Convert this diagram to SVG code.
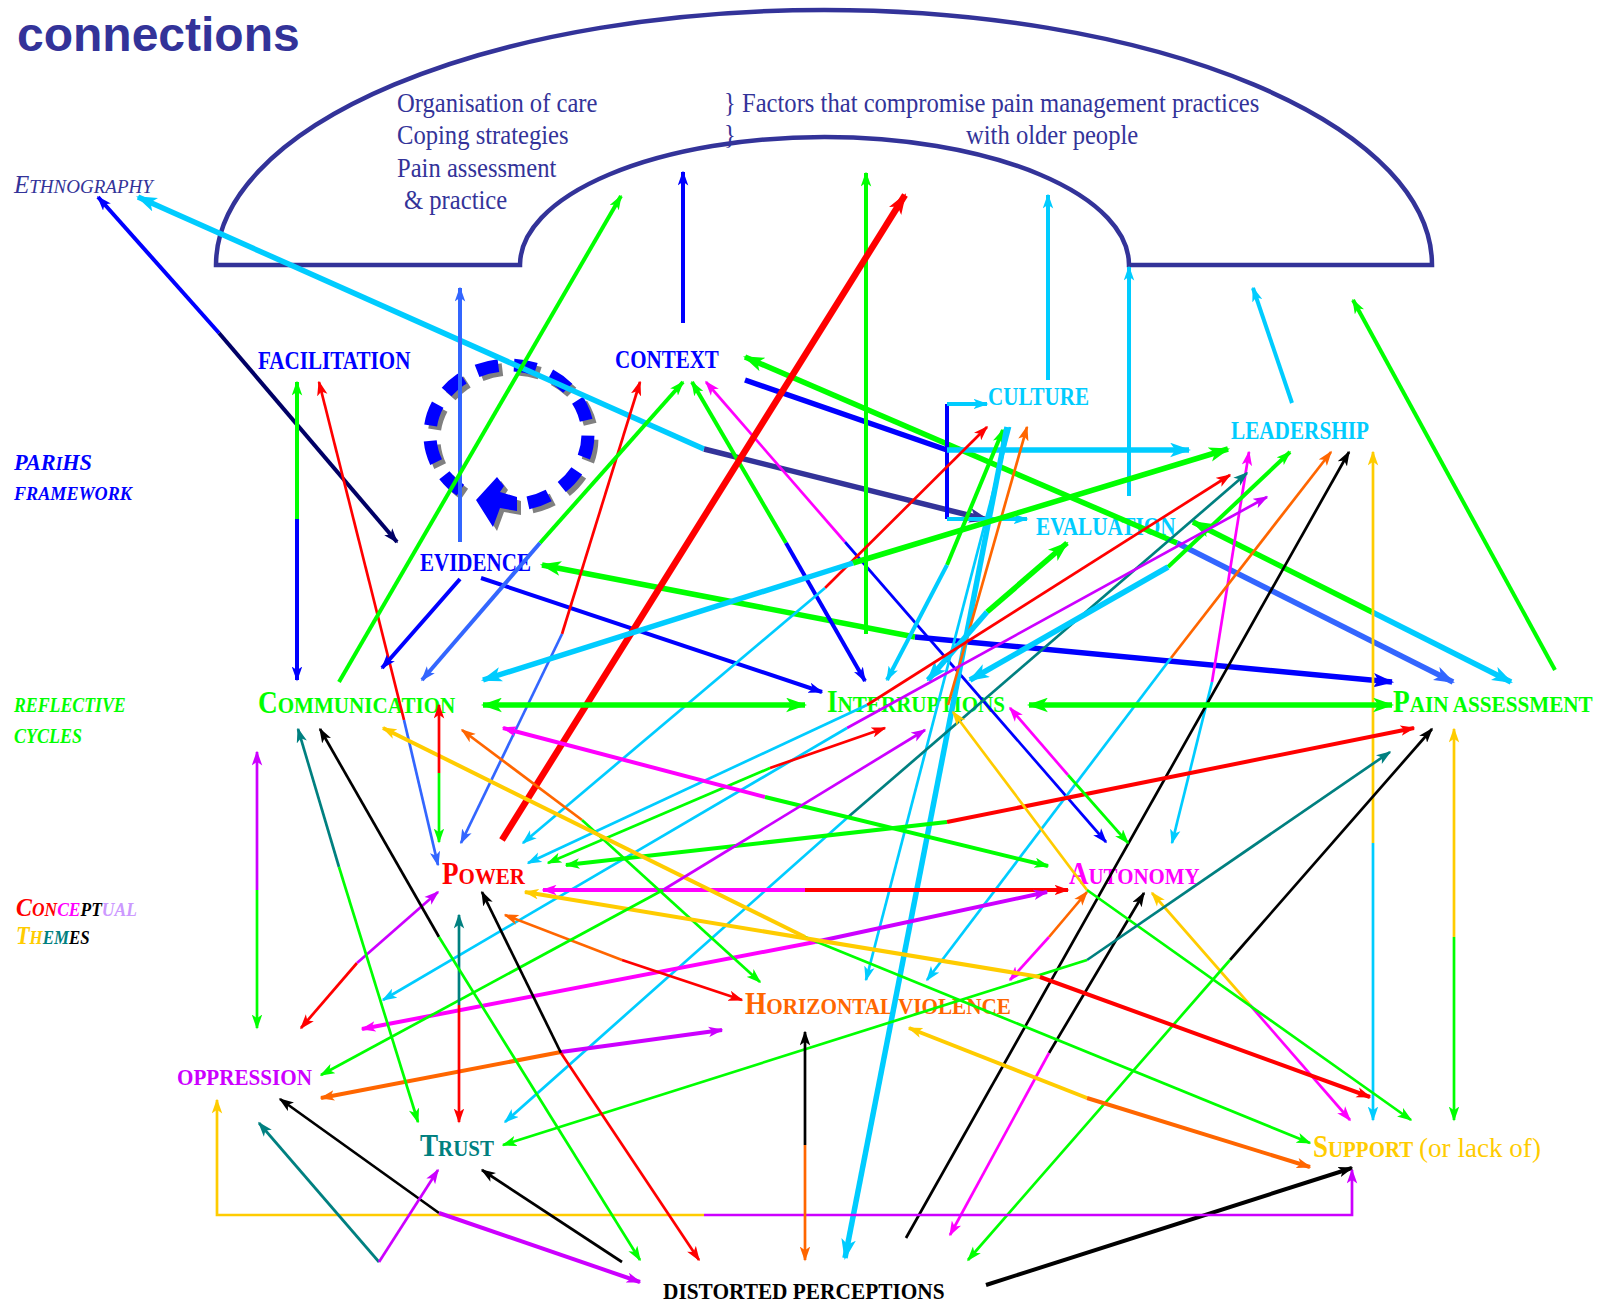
<svg xmlns="http://www.w3.org/2000/svg" width="1612" height="1305" viewBox="0 0 1612 1305">
<style>
text{font-family:"Liberation Serif","Times New Roman",serif}
.lbl{font-weight:bold}
.side{font-weight:bold;font-style:italic}
.arch{fill:#333399;font-size:27px}
#connectors line,#connectors polyline{fill:none;stroke-linecap:butt}
.b{stroke:#0000ff}.nv{stroke:#000066}.lb{stroke:#00ccff}.sl{stroke:#333399}.g{stroke:#00ff00}.r{stroke:#ff0000}.mb{stroke:#3366ff}.m{stroke:#ff00ff}.p{stroke:#cc00ff}.o{stroke:#ff6600}.y{stroke:#ffcc00}.t{stroke:#008080}.k{stroke:#000000}
.w1{stroke-width:2.7}.w2{stroke-width:4}.w3{stroke-width:5.5}.w4{stroke-width:6.5}
</style>
<defs>
<marker id="s-b" viewBox="0 0 20 14" refX="18" refY="7" markerWidth="15" markerHeight="11" markerUnits="userSpaceOnUse" orient="auto"><path d="M0,0L20,7L0,14L5,7Z" fill="#0000ff"/></marker>
<marker id="s-nv" viewBox="0 0 20 14" refX="18" refY="7" markerWidth="15" markerHeight="11" markerUnits="userSpaceOnUse" orient="auto"><path d="M0,0L20,7L0,14L5,7Z" fill="#000066"/></marker>
<marker id="s-lb" viewBox="0 0 20 14" refX="18" refY="7" markerWidth="15" markerHeight="11" markerUnits="userSpaceOnUse" orient="auto"><path d="M0,0L20,7L0,14L5,7Z" fill="#00ccff"/></marker>
<marker id="s-g" viewBox="0 0 20 14" refX="18" refY="7" markerWidth="15" markerHeight="11" markerUnits="userSpaceOnUse" orient="auto"><path d="M0,0L20,7L0,14L5,7Z" fill="#00ff00"/></marker>
<marker id="s-r" viewBox="0 0 20 14" refX="18" refY="7" markerWidth="15" markerHeight="11" markerUnits="userSpaceOnUse" orient="auto"><path d="M0,0L20,7L0,14L5,7Z" fill="#ff0000"/></marker>
<marker id="s-mb" viewBox="0 0 20 14" refX="18" refY="7" markerWidth="15" markerHeight="11" markerUnits="userSpaceOnUse" orient="auto"><path d="M0,0L20,7L0,14L5,7Z" fill="#3366ff"/></marker>
<marker id="s-m" viewBox="0 0 20 14" refX="18" refY="7" markerWidth="15" markerHeight="11" markerUnits="userSpaceOnUse" orient="auto"><path d="M0,0L20,7L0,14L5,7Z" fill="#ff00ff"/></marker>
<marker id="s-p" viewBox="0 0 20 14" refX="18" refY="7" markerWidth="15" markerHeight="11" markerUnits="userSpaceOnUse" orient="auto"><path d="M0,0L20,7L0,14L5,7Z" fill="#cc00ff"/></marker>
<marker id="s-o" viewBox="0 0 20 14" refX="18" refY="7" markerWidth="15" markerHeight="11" markerUnits="userSpaceOnUse" orient="auto"><path d="M0,0L20,7L0,14L5,7Z" fill="#ff6600"/></marker>
<marker id="s-y" viewBox="0 0 20 14" refX="18" refY="7" markerWidth="15" markerHeight="11" markerUnits="userSpaceOnUse" orient="auto"><path d="M0,0L20,7L0,14L5,7Z" fill="#ffcc00"/></marker>
<marker id="s-t" viewBox="0 0 20 14" refX="18" refY="7" markerWidth="15" markerHeight="11" markerUnits="userSpaceOnUse" orient="auto"><path d="M0,0L20,7L0,14L5,7Z" fill="#008080"/></marker>
<marker id="s-k" viewBox="0 0 20 14" refX="18" refY="7" markerWidth="15" markerHeight="11" markerUnits="userSpaceOnUse" orient="auto"><path d="M0,0L20,7L0,14L5,7Z" fill="#000000"/></marker>
<marker id="l-b" viewBox="0 0 20 14" refX="18" refY="7" markerWidth="21" markerHeight="15" markerUnits="userSpaceOnUse" orient="auto"><path d="M0,0L20,7L0,14L5,7Z" fill="#0000ff"/></marker>
<marker id="l-lb" viewBox="0 0 20 14" refX="18" refY="7" markerWidth="21" markerHeight="15" markerUnits="userSpaceOnUse" orient="auto"><path d="M0,0L20,7L0,14L5,7Z" fill="#00ccff"/></marker>
<marker id="l-sl" viewBox="0 0 20 14" refX="18" refY="7" markerWidth="21" markerHeight="15" markerUnits="userSpaceOnUse" orient="auto"><path d="M0,0L20,7L0,14L5,7Z" fill="#333399"/></marker>
<marker id="l-g" viewBox="0 0 20 14" refX="18" refY="7" markerWidth="21" markerHeight="15" markerUnits="userSpaceOnUse" orient="auto"><path d="M0,0L20,7L0,14L5,7Z" fill="#00ff00"/></marker>
<marker id="l-r" viewBox="0 0 20 14" refX="18" refY="7" markerWidth="21" markerHeight="15" markerUnits="userSpaceOnUse" orient="auto"><path d="M0,0L20,7L0,14L5,7Z" fill="#ff0000"/></marker>
<marker id="l-mb" viewBox="0 0 20 14" refX="18" refY="7" markerWidth="21" markerHeight="15" markerUnits="userSpaceOnUse" orient="auto"><path d="M0,0L20,7L0,14L5,7Z" fill="#3366ff"/></marker>
</defs>
<rect width="1612" height="1305" fill="#ffffff"/>

<g id="title"><text x="17" y="51" style="font-family:'Liberation Sans',Arial,sans-serif" font-weight="bold" font-size="48" fill="#333399">connections</text></g>

<g id="factors">
<path d="M216,265 A608,255 0 0 1 1432,265 L1129,265 A304.5,128 0 0 0 520,265 Z" fill="none" stroke="#333399" stroke-width="4.5"/>
<text class="arch" transform="translate(397,112) scale(0.912,1)">Organisation of care</text>
<text class="arch" transform="translate(397,144) scale(0.912,1)">Coping strategies</text>
<text class="arch" transform="translate(397,177) scale(0.912,1)">Pain assessment</text>
<text class="arch" transform="translate(404,209) scale(0.912,1)">&amp; practice</text>
<text class="arch" transform="translate(724,112) scale(0.912,1)">} Factors that compromise pain management practices</text>
<text class="arch" transform="translate(724,144) scale(0.912,1)">}</text>
<text class="arch" transform="translate(966,144) scale(0.912,1)">with older people</text>
</g>

<g id="ethnography"><text x="14" y="193" font-style="italic" fill="#333399"><tspan font-size="25">E</tspan><tspan font-size="19">THNOGRAPHY</tspan></text></g>
<g id="parihs-framework">
<text class="side" transform="translate(14,470) scale(0.93,1)" fill="#0000ff" font-size="24">PAR<tspan font-size="18">I</tspan>HS</text>
<text class="side" transform="translate(14,500) scale(0.955,1)" fill="#0000ff" font-size="19">FRAMEWORK</text>
</g>
<g id="reflective-cycles">
<text class="side" transform="translate(14,712) scale(0.89,1)" fill="#00ff00" font-size="20">REFLECTIVE</text>
<text class="side" transform="translate(14,743) scale(0.9,1)" fill="#00ff00" font-size="20">CYCLES</text>
</g>
<g id="conceptual-themes">
<text class="side" transform="translate(16,916) scale(0.92,1)" font-size="19"><tspan fill="#ff0000" font-size="26">C</tspan><tspan fill="#ff0000">ON</tspan><tspan fill="#ff00ff">CE</tspan><tspan fill="#000000">PT</tspan><tspan fill="#cc99ff">UAL</tspan></text>
<text class="side" transform="translate(16,944) scale(0.89,1)" font-size="19"><tspan fill="#ffcc00" font-size="25">T</tspan><tspan fill="#ffcc00">H</tspan><tspan fill="#008080">EM</tspan><tspan fill="#000000">ES</tspan></text>
</g>

<g id="facilitation"><text class="lbl" font-size="25" transform="translate(258,369) scale(0.844,1)" fill="#0000ff">FACILITATION</text></g>
<g id="context"><text class="lbl" font-size="25" transform="translate(615,368) scale(0.841,1)" fill="#0000ff">CONTEXT</text></g>
<g id="culture"><text class="lbl" font-size="25" transform="translate(988,405) scale(0.843,1)" fill="#00ccff">CULTURE</text></g>
<g id="leadership"><text class="lbl" font-size="25" transform="translate(1231,439) scale(0.849,1)" fill="#00ccff">LEADERSHIP</text></g>
<g id="evaluation"><text class="lbl" font-size="25" transform="translate(1036,535) scale(0.85,1)" fill="#00ccff">EVALUATION</text></g>
<g id="evidence"><text class="lbl" font-size="25" transform="translate(420,571) scale(0.841,1)" fill="#0000ff">EVIDENCE</text></g>
<g id="communication"><text class="lbl" font-size="24" transform="translate(258,713) scale(0.879,1)" fill="#00ff00"><tspan font-size="31">C</tspan>OMMUNICATION</text></g>
<g id="interruptions"><text class="lbl" font-size="24" transform="translate(827,712) scale(0.878,1)" fill="#00ff00"><tspan font-size="31">I</tspan>NTERRUPTIONS</text></g>
<g id="pain-assessment"><text class="lbl" font-size="24" transform="translate(1393,712) scale(0.883,1)" fill="#00ff00"><tspan font-size="31">P</tspan>AIN ASSESSMENT</text></g>
<g id="power"><text class="lbl" font-size="24" transform="translate(442,884) scale(0.875,1)" fill="#ff0000"><tspan font-size="31">P</tspan>OWER</text></g>
<g id="autonomy"><text class="lbl" font-size="24" transform="translate(1069,884) scale(0.871,1)" fill="#ff00ff"><tspan font-size="31">A</tspan>UTONOMY</text></g>
<g id="horizontal-violence"><text class="lbl" font-size="24" transform="translate(745,1014) scale(0.883,1)" fill="#ff6600"><tspan font-size="31">H</tspan>ORIZONTAL VIOLENCE</text></g>
<g id="oppression"><text class="lbl" font-size="24" transform="translate(177,1085) scale(0.88,1)" fill="#cc00ff">OPPRESSION</text></g>
<g id="trust"><text class="lbl" font-size="24" transform="translate(420,1156) scale(0.874,1)" fill="#008080"><tspan font-size="31">T</tspan>RUST</text></g>
<g id="support">
<text class="lbl" font-size="24" transform="translate(1313,1157) scale(0.871,1)" fill="#ffcc00"><tspan font-size="31">S</tspan>UPPORT</text>
<text transform="translate(1419,1157) scale(0.969,1)" fill="#ffcc00" font-size="28">(or lack of)</text>
</g>
<g id="distorted-perceptions"><text class="lbl" font-size="23" transform="translate(663,1299) scale(0.928,1)" fill="#000000">DISTORTED PERCEPTIONS</text></g>

<g id="cycle">
<path d="M464.4,494.2 A79,70 0 1 1 526.7,507.9" fill="none" stroke="#808080" stroke-width="13" stroke-dasharray="22 15.5"/>
<path d="M460.4,490.2 A79,70 0 1 1 522.7,503.9" fill="none" stroke="#0000ff" stroke-width="13" stroke-dasharray="22 15.5"/>
<polygon points="480,504 501,481 508,490 504,496 521,501 521,515 504,512 497,531" fill="#808080"/>
<polygon points="476,500 497,477 504,486 500,492 517,497 517,511 500,508 493,527" fill="#0000ff"/>
</g>

<g id="connectors">
<line class="b w2" x1="219" y1="333" x2="98" y2="197" marker-end="url(#s-b)"/>
<line class="nv w2" x1="219" y1="333" x2="397" y2="542" marker-end="url(#s-nv)"/>
<line class="lb w3" x1="704" y1="449" x2="138" y2="197" marker-end="url(#l-lb)"/>
<line class="sl w3" x1="704" y1="449" x2="988" y2="520" marker-end="url(#l-sl)"/>
<line class="g w2" x1="297" y1="519" x2="297" y2="382" marker-end="url(#s-g)"/>
<line class="b w2" x1="297" y1="519" x2="297" y2="680" marker-end="url(#s-b)"/>
<line class="r w1" x1="404" y1="720" x2="319" y2="382" marker-end="url(#s-r)"/>
<line class="mb w1" x1="404" y1="720" x2="438" y2="865" marker-end="url(#s-mb)"/>
<line class="mb w2" x1="460" y1="542" x2="460" y2="288" marker-end="url(#s-mb)"/>
<line class="g w3" x1="915" y1="637" x2="542" y2="565" marker-end="url(#l-g)"/>
<line class="b w3" x1="915" y1="637" x2="1392" y2="682" marker-end="url(#l-b)"/>
<line class="b w2" x1="460" y1="579" x2="382" y2="668" marker-end="url(#s-b)"/>
<line class="b w2" x1="481" y1="578" x2="822" y2="692" marker-end="url(#s-b)"/>
<line class="b w2" x1="683" y1="323" x2="683" y2="172" marker-end="url(#s-b)"/>
<line class="r w1" x1="562" y1="634" x2="640" y2="382" marker-end="url(#s-r)"/>
<line class="mb w1" x1="562" y1="634" x2="461" y2="843" marker-end="url(#s-mb)"/>
<line class="g w2" x1="540" y1="543" x2="683" y2="382" marker-end="url(#s-g)"/>
<line class="mb w2" x1="540" y1="543" x2="422" y2="680" marker-end="url(#s-mb)"/>
<line class="g w2" x1="786" y1="543" x2="692" y2="382" marker-end="url(#s-g)"/>
<line class="b w2" x1="786" y1="543" x2="865" y2="681" marker-end="url(#s-b)"/>
<line class="m w1" x1="845" y1="542" x2="706" y2="382" marker-end="url(#s-m)"/>
<line class="b w1" x1="845" y1="542" x2="1106" y2="842" marker-end="url(#s-b)"/>
<line class="g w3" x1="1177" y1="543" x2="745" y2="357" marker-end="url(#l-g)"/>
<line class="mb w3" x1="1177" y1="543" x2="1453" y2="682" marker-end="url(#l-mb)"/>
<line class="b w3" x1="745" y1="380" x2="947" y2="450"/>
<line class="b w2" x1="947" y1="404" x2="947" y2="519"/>
<line class="lb w2" x1="947" y1="404" x2="987" y2="404" marker-end="url(#s-lb)"/>
<line class="lb w2" x1="947" y1="519" x2="1027" y2="519" marker-end="url(#s-lb)"/>
<line class="lb w3" x1="947" y1="450" x2="1189" y2="450" marker-end="url(#l-lb)"/>
<line class="g w2" x1="339" y1="682" x2="621" y2="196" marker-end="url(#s-g)"/>
<line class="g w2" x1="866" y1="634" x2="866" y2="173" marker-end="url(#s-g)"/>
<line class="r w4" x1="502" y1="840" x2="905" y2="195" marker-end="url(#l-r)"/>
<line class="lb w2" x1="1048" y1="380" x2="1048" y2="195" marker-end="url(#s-lb)"/>
<line class="lb w2" x1="1129" y1="496" x2="1129" y2="267" marker-end="url(#s-lb)"/>
<line class="lb w2" x1="1292" y1="403" x2="1253" y2="288" marker-end="url(#s-lb)"/>
<line class="g w2" x1="1555" y1="670" x2="1353" y2="300" marker-end="url(#s-g)"/>
<line class="r w1" x1="825" y1="588" x2="987" y2="427" marker-end="url(#s-r)"/>
<line class="lb w1" x1="825" y1="588" x2="523" y2="843" marker-end="url(#s-lb)"/>
<line class="g w2" x1="947" y1="565" x2="1003" y2="430" marker-end="url(#s-g)"/>
<line class="lb w2" x1="947" y1="565" x2="887" y2="680" marker-end="url(#s-lb)"/>
<line class="lb w3" x1="1007" y1="427" x2="845" y2="1258" marker-end="url(#l-lb)"/>
<line class="lb w1" x1="1010" y1="427" x2="866" y2="980" marker-end="url(#s-lb)"/>
<line class="o w1" x1="948" y1="705" x2="1027" y2="427" marker-end="url(#s-o)"/>
<line class="g w3" x1="987" y1="612" x2="1067" y2="543" marker-end="url(#l-g)"/>
<line class="lb w3" x1="987" y1="612" x2="928" y2="680" marker-end="url(#l-lb)"/>
<line class="g w3" x1="1372" y1="612" x2="1193" y2="522" marker-end="url(#l-g)"/>
<line class="lb w3" x1="1372" y1="612" x2="1511" y2="682" marker-end="url(#l-lb)"/>
<line class="g w3" x1="853" y1="563" x2="1228" y2="449" marker-end="url(#l-g)"/>
<line class="lb w3" x1="853" y1="563" x2="483" y2="680" marker-end="url(#l-lb)"/>
<line class="m w1" x1="1212" y1="682" x2="1249" y2="452" marker-end="url(#s-m)"/>
<line class="lb w1" x1="1212" y1="682" x2="1172" y2="843" marker-end="url(#s-lb)"/>
<line class="r w1" x1="867" y1="705" x2="1230" y2="475" marker-end="url(#s-r)"/>
<line class="lb w1" x1="867" y1="705" x2="528" y2="863" marker-end="url(#s-lb)"/>
<line class="t w1" x1="847" y1="818" x2="1247" y2="473" marker-end="url(#s-t)"/>
<line class="lb w1" x1="847" y1="818" x2="505" y2="1122" marker-end="url(#s-lb)"/>
<line class="g w2" x1="1168" y1="567" x2="1290" y2="452" marker-end="url(#s-g)"/>
<line class="lb w3" x1="1168" y1="567" x2="970" y2="680" marker-end="url(#l-lb)"/>
<line class="p w1" x1="847" y1="728" x2="1267" y2="497" marker-end="url(#s-p)"/>
<line class="lb w1" x1="847" y1="728" x2="383" y2="1000" marker-end="url(#s-lb)"/>
<line class="o w1" x1="1171" y1="658" x2="1331" y2="452" marker-end="url(#s-o)"/>
<line class="lb w1" x1="1171" y1="658" x2="927" y2="980" marker-end="url(#s-lb)"/>
<line class="k w1" x1="906" y1="1238" x2="1349" y2="452" marker-end="url(#s-k)"/>
<line class="y w1" x1="1373" y1="843" x2="1373" y2="452" marker-end="url(#s-y)"/>
<line class="lb w1" x1="1373" y1="843" x2="1373" y2="1120" marker-end="url(#s-lb)"/>
<line class="g w1" x1="770" y1="768" x2="548" y2="863" marker-end="url(#s-g)"/>
<line class="r w1" x1="770" y1="768" x2="885" y2="728" marker-end="url(#s-r)"/>
<line class="m w2" x1="765" y1="797" x2="503" y2="728" marker-end="url(#s-m)"/>
<line class="g w2" x1="765" y1="797" x2="1048" y2="866" marker-end="url(#s-g)"/>
<line class="g w2" x1="947" y1="822" x2="566" y2="865" marker-end="url(#s-g)"/>
<line class="r w2" x1="947" y1="822" x2="1414" y2="728" marker-end="url(#s-r)"/>
<line class="m w1" x1="1068" y1="775" x2="1010" y2="708" marker-end="url(#s-m)"/>
<line class="g w1" x1="1068" y1="775" x2="1128" y2="843" marker-end="url(#s-g)"/>
<line class="m w2" x1="805" y1="890" x2="543" y2="890" marker-end="url(#s-m)"/>
<line class="r w2" x1="805" y1="890" x2="1068" y2="890" marker-end="url(#s-r)"/>
<line class="m w2" x1="815" y1="942" x2="362" y2="1029" marker-end="url(#s-m)"/>
<line class="p w2" x1="815" y1="942" x2="1047" y2="892" marker-end="url(#s-p)"/>
<line class="m w1" x1="1049" y1="937" x2="1010" y2="980" marker-end="url(#s-m)"/>
<line class="o w1" x1="1049" y1="937" x2="1087" y2="892" marker-end="url(#s-o)"/>
<line class="k w1" x1="1049" y1="1053" x2="1144" y2="893" marker-end="url(#s-k)"/>
<line class="m w1" x1="1049" y1="1053" x2="950" y2="1235" marker-end="url(#s-m)"/>
<line class="y w1" x1="1250" y1="1005" x2="1152" y2="893" marker-end="url(#s-y)"/>
<line class="m w1" x1="1250" y1="1005" x2="1350" y2="1120" marker-end="url(#s-m)"/>
<line class="y w1" x1="1087" y1="890" x2="953" y2="712" marker-end="url(#s-y)"/>
<line class="g w1" x1="1087" y1="890" x2="1411" y2="1120" marker-end="url(#s-g)"/>
<line class="t w1" x1="1087" y1="960" x2="1390" y2="752" marker-end="url(#s-t)"/>
<line class="g w1" x1="1087" y1="960" x2="503" y2="1145" marker-end="url(#s-g)"/>
<line class="o w1" x1="582" y1="820" x2="462" y2="730" marker-end="url(#s-o)"/>
<line class="g w1" x1="582" y1="820" x2="760" y2="982" marker-end="url(#s-g)"/>
<line class="y w2" x1="805" y1="937" x2="383" y2="728" marker-end="url(#s-y)"/>
<line class="g w1" x1="805" y1="937" x2="1310" y2="1143" marker-end="url(#s-g)"/>
<line class="k w1" x1="1230" y1="960" x2="1432" y2="729" marker-end="url(#s-k)"/>
<line class="g w1" x1="1230" y1="960" x2="968" y2="1260" marker-end="url(#s-g)"/>
<line class="y w1" x1="1454" y1="937" x2="1454" y2="729" marker-end="url(#s-y)"/>
<line class="g w1" x1="1454" y1="937" x2="1454" y2="1120" marker-end="url(#s-g)"/>
<line class="y w2" x1="1040" y1="977" x2="525" y2="892" marker-end="url(#s-y)"/>
<line class="r w2" x1="1040" y1="977" x2="1370" y2="1097" marker-end="url(#s-r)"/>
<line class="y w2" x1="1087" y1="1098" x2="909" y2="1028" marker-end="url(#s-y)"/>
<line class="o w2" x1="1087" y1="1098" x2="1310" y2="1167" marker-end="url(#s-o)"/>
<line class="k w2" x1="986" y1="1285" x2="1352" y2="1168" marker-end="url(#s-k)"/>
<polyline class="y w1" points="704,1215 217,1215 217,1100" marker-end="url(#s-y)"/>
<polyline class="p w1" points="704,1215 1352,1215 1352,1170" marker-end="url(#s-p)"/>
<line class="o w1" x1="622" y1="960" x2="505" y2="915" marker-end="url(#s-o)"/>
<line class="r w1" x1="622" y1="960" x2="742" y2="1000" marker-end="url(#s-r)"/>
<line class="o w2" x1="561" y1="1052" x2="321" y2="1098" marker-end="url(#s-o)"/>
<line class="p w2" x1="561" y1="1052" x2="722" y2="1030" marker-end="url(#s-p)"/>
<line class="k w1" x1="805" y1="1145" x2="805" y2="1032" marker-end="url(#s-k)"/>
<line class="o w1" x1="805" y1="1145" x2="805" y2="1260" marker-end="url(#s-o)"/>
<line class="p w1" x1="257" y1="890" x2="257" y2="752" marker-end="url(#s-p)"/>
<line class="g w1" x1="257" y1="890" x2="257" y2="1028" marker-end="url(#s-g)"/>
<line class="r w1" x1="357" y1="963" x2="301" y2="1028" marker-end="url(#s-r)"/>
<line class="p w1" x1="357" y1="963" x2="438" y2="892" marker-end="url(#s-p)"/>
<line class="p w1" x1="663" y1="890" x2="925" y2="730" marker-end="url(#s-p)"/>
<line class="g w1" x1="663" y1="890" x2="321" y2="1075" marker-end="url(#s-g)"/>
<line class="k w1" x1="439" y1="1213" x2="280" y2="1099" marker-end="url(#s-k)"/>
<line class="p w2" x1="439" y1="1213" x2="640" y2="1282" marker-end="url(#s-p)"/>
<line class="t w1" x1="379" y1="1262" x2="259" y2="1123" marker-end="url(#s-t)"/>
<line class="p w1" x1="379" y1="1262" x2="438" y2="1170" marker-end="url(#s-p)"/>
<line class="t w1" x1="339" y1="867" x2="298" y2="729" marker-end="url(#s-t)"/>
<line class="g w1" x1="339" y1="867" x2="418" y2="1122" marker-end="url(#s-g)"/>
<line class="t w1" x1="459" y1="1005" x2="459" y2="915" marker-end="url(#s-t)"/>
<line class="r w1" x1="459" y1="1005" x2="459" y2="1122" marker-end="url(#s-r)"/>
<line class="k w1" x1="622" y1="1262" x2="482" y2="1170" marker-end="url(#s-k)"/>
<line class="k w1" x1="439" y1="937" x2="320" y2="729" marker-end="url(#s-k)"/>
<line class="g w1" x1="439" y1="937" x2="640" y2="1260" marker-end="url(#s-g)"/>
<line class="r w1" x1="439" y1="773" x2="439" y2="705" marker-end="url(#s-r)"/>
<line class="g w1" x1="439" y1="773" x2="439" y2="842" marker-end="url(#s-g)"/>
<line class="k w1" x1="561" y1="1053" x2="482" y2="892" marker-end="url(#s-k)"/>
<line class="r w1" x1="561" y1="1053" x2="699" y2="1260" marker-end="url(#s-r)"/>
<line class="g w3" x1="644" y1="705" x2="483" y2="705" marker-end="url(#l-g)"/>
<line class="g w3" x1="644" y1="705" x2="805" y2="705" marker-end="url(#l-g)"/>
<line class="g w3" x1="1210" y1="705" x2="1029" y2="705" marker-end="url(#l-g)"/>
<line class="g w3" x1="1210" y1="705" x2="1392" y2="705" marker-end="url(#l-g)"/>
</g>
</svg>
